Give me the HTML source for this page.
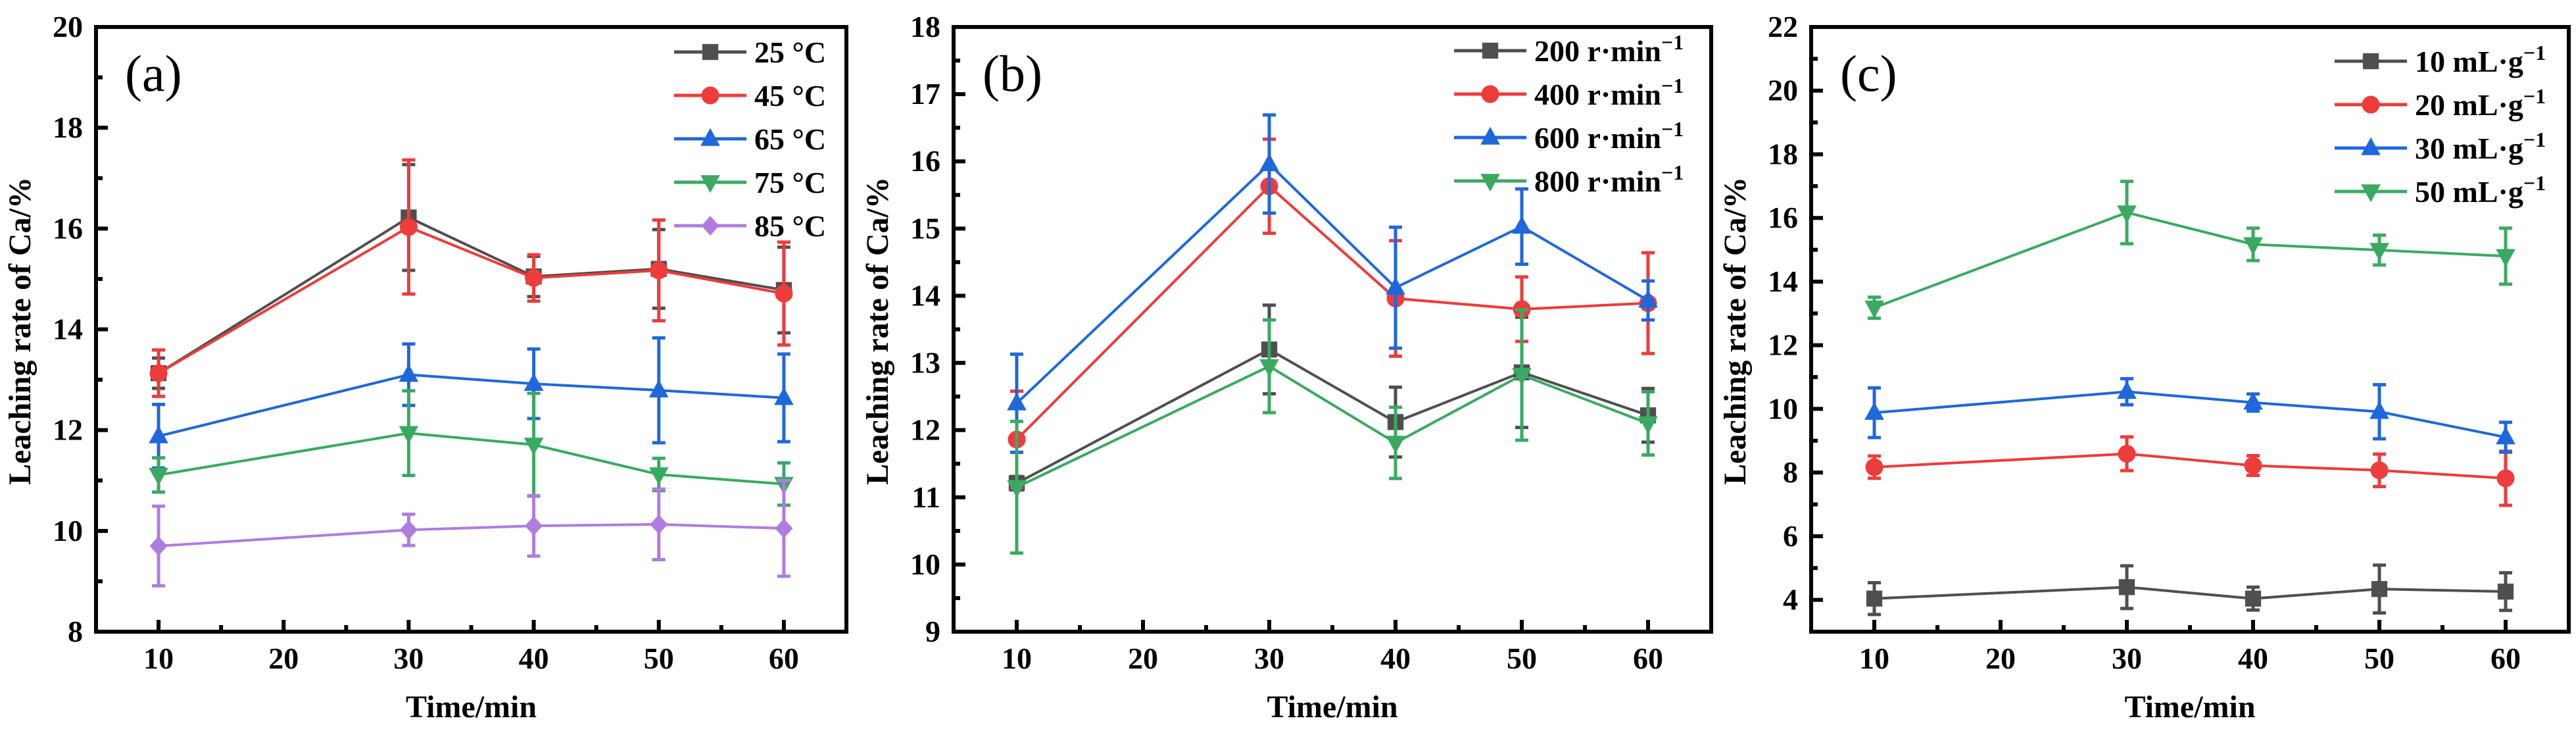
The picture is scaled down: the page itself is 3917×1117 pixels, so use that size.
<!DOCTYPE html>
<html><head><meta charset="utf-8"><style>
html,body{margin:0;padding:0;background:#fff}
svg{display:block}
text{font-family:"Liberation Serif",serif}
</style></head><body>
<svg id="chart" width="3917" height="1117" viewBox="0 0 3917 1117" xmlns="http://www.w3.org/2000/svg"></svg>
<script>
// ---- data ----
const times = [10, 30, 40, 50, 60];
// panel a (temperature)
const aLabels = ["25 °C", "45 °C", "65 °C", "75 °C", "85 °C"];
const a25 = [13.13, 16.22, 15.05, 15.20, 14.78];
const a25e = [0.30, 1.05, 0.40, 0.78, 0.85];
const a45 = [13.13, 16.03, 15.02, 15.17, 14.71];
const a45e = [0.46, 1.33, 0.46, 1.00, 1.02];
const a65 = [11.88, 13.10, 12.92, 12.79, 12.64];
const a65e = [0.63, 0.61, 0.69, 1.04, 0.87];
const a75 = [11.11, 11.94, 11.71, 11.12, 10.93];
const a75e = [0.34, 0.84, 1.02, 0.32, 0.42];
const a85 = [9.70, 10.02, 10.10, 10.13, 10.05];
const a85e = [0.79, 0.31, 0.60, 0.70, 0.95];
const aYTicks = [8, 10, 12, 14, 16, 18, 20];
// panel b (stirring speed)
const bLabels = ["200", "400", "600", "800"];
const b200 = [11.21, 13.20, 12.12, 12.86, 12.22];
const b200e = [0.10, 0.66, 0.52, 0.82, 0.40];
const b400 = [11.86, 15.63, 13.96, 13.80, 13.89];
const b400e = [0.72, 0.70, 0.86, 0.48, 0.75];
const b600 = [12.40, 15.96, 14.12, 15.03, 13.93];
const b600e = [0.73, 0.73, 0.90, 0.56, 0.29];
const b800 = [11.15, 12.95, 11.81, 12.82, 12.10];
const b800e = [0.98, 0.69, 0.53, 0.97, 0.47];
const bYTicks = [9, 10, 11, 12, 13, 14, 15, 16, 17, 18];
// panel c (liquid/solid ratio)
const cLabels = ["10", "20", "30", "50"];
const c10 = [4.04, 4.40, 4.04, 4.34, 4.26];
const c10e = [0.50, 0.67, 0.36, 0.75, 0.59];
const c20 = [8.17, 8.59, 8.22, 8.07, 7.82];
const c20e = [0.35, 0.53, 0.31, 0.51, 0.85];
const c30 = [9.88, 10.54, 10.20, 9.91, 9.11];
const c30e = [0.78, 0.41, 0.27, 0.85, 0.47];
const c50 = [13.18, 16.17, 15.17, 14.99, 14.80];
const c50e = [0.33, 0.98, 0.51, 0.47, 0.88];
const cYTicks = [4, 6, 8, 10, 12, 14, 16, 18, 20, 22];
const xTicks = [10, 20, 30, 40, 50, 60];

const COL = {gray:"#4f4f4f", red:"#ee3b3b", blue:"#1f68db", green:"#3aaa62", purple:"#b07ce0"};
const NS = "http://www.w3.org/2000/svg";
const svg = document.getElementById('chart');
function mk(tag, attrs, parent){const e=document.createElementNS(NS,tag);for(const k in attrs)e.setAttribute(k,attrs[k]);(parent||svg).appendChild(e);return e;}

function marker(g, type, x, y, color, s){
  let e;
  if(type==='square') e=mk('rect',{x:x-s*0.45,y:y-s*0.45,width:s*0.9,height:s*0.9,fill:color},g);
  else if(type==='circle') e=mk('circle',{cx:x,cy:y,r:s*0.5,fill:color},g);
  else if(type==='up') e=mk('polygon',{points:`${x},${y-s*0.6} ${x-s*0.55},${y+s*0.4} ${x+s*0.55},${y+s*0.4}`,fill:color},g);
  else if(type==='down') e=mk('polygon',{points:`${x},${y+s*0.6} ${x-s*0.55},${y-s*0.4} ${x+s*0.55},${y-s*0.4}`,fill:color},g);
  else e=mk('polygon',{points:`${x},${y-s*0.55} ${x+s*0.5},${y} ${x},${y+s*0.55} ${x-s*0.5},${y}`,fill:color},g);
  
  
}

function panel(cfg){
  const g = mk('g',{});
  
  
  const L=cfg.left, R=cfg.right, T=41, B=960;
  const xs = v => L + (v-5)/(65-5)*(R-L);
  const ys = v => B - (v-cfg.ymin)/(cfg.ymax-cfg.ymin)*(B-T);
  // series
  cfg.series.forEach(s=>{
    const sg = mk('g',{},g);
    
    
    const pts = times.map((t,i)=>xs(t)+','+ys(s.v[i])).join(' ');
    const ln = mk('polyline',{points:pts,fill:'none',stroke:s.c,'stroke-width':4},sg);
    
    
    times.forEach((t,i)=>{
      const x=xs(t), y1=ys(s.v[i]+s.e[i]), y2=ys(s.v[i]-s.e[i]);
      const eb = mk('path',{d:`M${x},${y1}V${y2}M${x-10},${y1}H${x+10}M${x-10},${y2}H${x+10}`,stroke:s.c,'stroke-width':5,fill:'none'},sg);
      
      
      marker(sg, s.m, x, ys(s.v[i]), s.c, 27);
    });
  });
  // axes frame
  const fr = mk('rect',{x:L,y:T,width:R-L,height:B-T,fill:'none',stroke:'#000','stroke-width':6},g);
  
  
  // x ticks
  for(let v=10; v<=60; v+=5){
    const major = v%10===0;
    mk('line',{x1:xs(v),x2:xs(v),y1:B,y2:B-(major?18:10),stroke:'#000','stroke-width':6},g);
  }
  xTicks.forEach(v=>{
    const t=mk('text',{x:xs(v),y:1016,'text-anchor':'middle','font-size':46,'font-weight':'bold'},g);
    t.textContent=v;
    
    
  });
  // y ticks
  const step = cfg.yTicks[1]-cfg.yTicks[0];
  for(let v=cfg.ymin; v<=cfg.ymax+1e-9; v+=step/2){
    const major = cfg.yTicks.some(tk=>Math.abs(tk-v)<1e-6);
    mk('line',{x1:L,x2:L+(major?18:10),y1:ys(v),y2:ys(v),stroke:'#000','stroke-width':6},g);
  }
  cfg.yTicks.forEach(v=>{
    const t=mk('text',{x:L-20,y:ys(v)+15,'text-anchor':'end','font-size':46,'font-weight':'bold'},g);
    t.textContent=v;
    
    
  });
  // titles
  const xt=mk('text',{x:(L+R)/2,y:1090,'text-anchor':'middle','font-size':48,'font-weight':'bold'},g);
  xt.textContent='Time/min';
  
  
  const yt=mk('text',{x:0,y:0,'text-anchor':'middle','font-size':48,'font-weight':'bold',transform:`translate(${L-100},503) rotate(-90)`},g);
  yt.textContent='Leaching rate of Ca/%';
  
  
  const pl=mk('text',{x:L+44,y:138,'font-size':78},g);
  pl.textContent=cfg.tag;
  
  
  // legend
  cfg.series.forEach((s,i)=>{
    const y = cfg.legY + i*cfg.legStep;
    const lg = mk('g',{},g);
    
    
    mk('line',{x1:cfg.legX,x2:cfg.legX+110,y1:y,y2:y,stroke:s.c,'stroke-width':5},lg);
    marker(lg, s.m, cfg.legX+55, y, s.c, 27);
    const t=mk('text',{x:cfg.legX+122,y:y+16,'font-size':46,'font-weight':'bold'},lg);
    if(cfg.unit){
      t.textContent=s.label+' '+cfg.unit+'\u00B7'+cfg.unit2;
      const sup=mk('tspan',{dy:-18,'font-size':32},t); sup.textContent='\u22121';
    } else t.textContent=s.label;
  });
}

panel({name:'panel-a-temperature',tag:'(a)',left:146,right:1287,ymin:8,ymax:20,yTicks:aYTicks,
  legX:1025,legY:79,legStep:66,
  series:[
    {key:'25c',label:aLabels[0],v:a25,e:a25e,c:COL.gray,m:'square'},
    {key:'45c',label:aLabels[1],v:a45,e:a45e,c:COL.red,m:'circle'},
    {key:'65c',label:aLabels[2],v:a65,e:a65e,c:COL.blue,m:'up'},
    {key:'75c',label:aLabels[3],v:a75,e:a75e,c:COL.green,m:'down'},
    {key:'85c',label:aLabels[4],v:a85,e:a85e,c:COL.purple,m:'diamond'}]});
panel({name:'panel-b-speed',tag:'(b)',left:1450,right:2602,ymin:9,ymax:18,yTicks:bYTicks,
  legX:2211,legY:77,legStep:66,unit:'r',unit2:'min',
  series:[
    {key:'200',label:bLabels[0],v:b200,e:b200e,c:COL.gray,m:'square'},
    {key:'400',label:bLabels[1],v:b400,e:b400e,c:COL.red,m:'circle'},
    {key:'600',label:bLabels[2],v:b600,e:b600e,c:COL.blue,m:'up'},
    {key:'800',label:bLabels[3],v:b800,e:b800e,c:COL.green,m:'down'}]});
panel({name:'panel-c-ratio',tag:'(c)',left:2754,right:3906,ymin:3,ymax:22,yTicks:cYTicks,
  legX:3550,legY:93,legStep:66,unit:'mL',unit2:'g',
  series:[
    {key:'10',label:cLabels[0],v:c10,e:c10e,c:COL.gray,m:'square'},
    {key:'20',label:cLabels[1],v:c20,e:c20e,c:COL.red,m:'circle'},
    {key:'30',label:cLabels[2],v:c30,e:c30e,c:COL.blue,m:'up'},
    {key:'50',label:cLabels[3],v:c50,e:c50e,c:COL.green,m:'down'}]});
</script>
</body></html>
